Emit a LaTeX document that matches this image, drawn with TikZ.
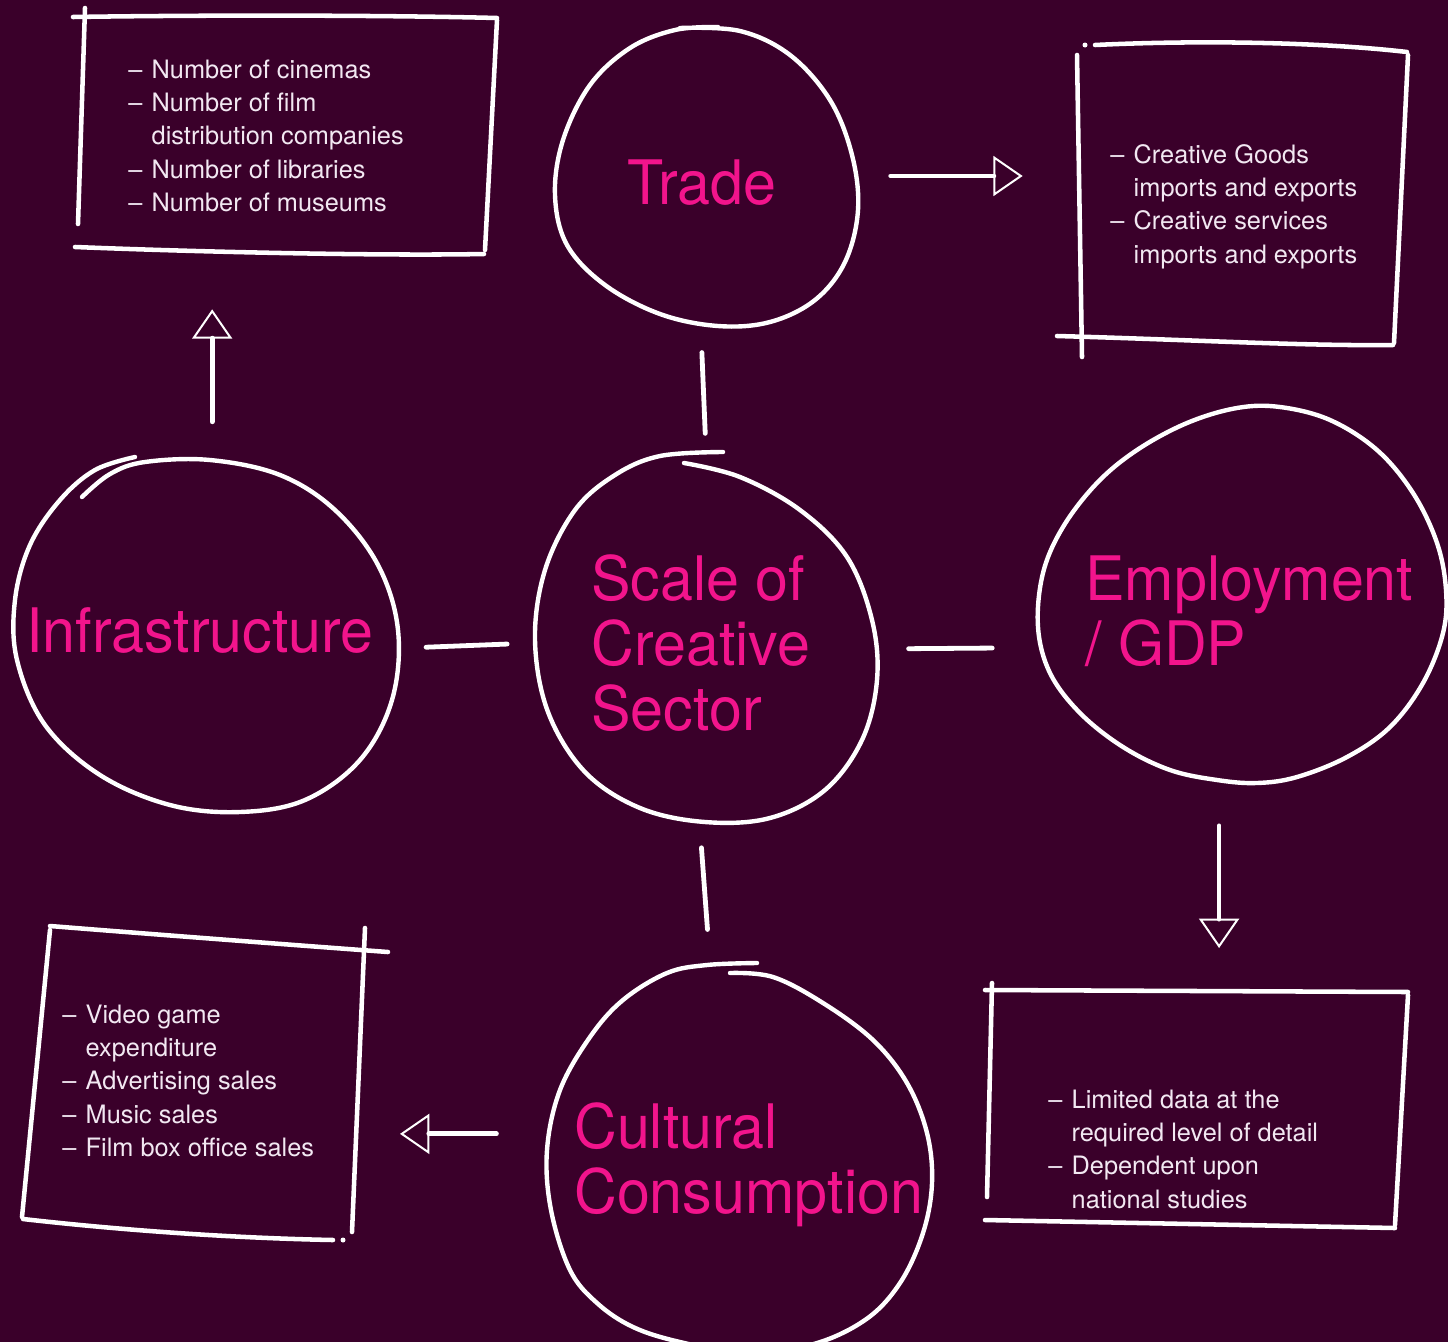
\documentclass[tikz,border=0pt]{standalone}
\usepackage{fontspec}
\setmainfont{TeX Gyre Heros}
\newfontfamily\headfont[FakeStretch=0.965]{TeX Gyre Heros}
\usetikzlibrary{arrows.meta,shapes.geometric}
\definecolor{plum}{RGB}{58,0,42}
\definecolor{hotpink}{RGB}{242,20,140}
\definecolor{chalk}{RGB}{242,232,242}

\begin{document}
\begin{tikzpicture}[x=0.75pt,y=0.75pt,yscale=-1,xscale=1,
  hub/.style={ellipse, draw=none, inner sep=0pt, outer sep=0pt},
  panel/.style={rectangle, draw=none, inner sep=0pt, outer sep=0pt},
  ring/.style={draw=white, line width=3.3pt, line cap=round, line join=round},
  frame/.style={draw=white, line width=3.4pt, line cap=round},
  link/.style={draw=white, line width=3.6pt, line cap=round},
  pointer/.style={link, -{Triangle[open, length=22pt, width=30pt, line width=1.5pt]}},
  title/.style={text=hotpink, inner sep=0pt, anchor=base west, font=\headfont\fontsize{46}{48}\selectfont},
  notes/.style={text=chalk, inner sep=0pt, anchor=base west, font=\fontsize{19}{25.1}\selectfont}]
%set diagram size: 1448 x 1342
\path[use as bounding box, fill=plum] (0,0) rectangle (1448,1342);

%Hubs
\node[hub, minimum width=227pt, minimum height=225pt] (trade) at (706,176) {};
\node[hub, minimum width=256.5pt, minimum height=277.5pt] (scale) at (706,637) {};
\node[hub, minimum width=287pt, minimum height=266pt] (infra) at (206,635) {};
\node[hub, minimum width=307pt, minimum height=282pt] (emp) at (1242,595) {};
\node[hub, minimum width=289pt, minimum height=286.5pt] (cult) at (740,1154) {};

%Panels
\node[panel, minimum width=318pt, minimum height=180pt] (tlbox) at (285,132) {};
\node[panel, minimum width=261pt, minimum height=230pt] (trbox) at (1234,197) {};
\node[panel, minimum width=274.5pt, minimum height=236pt] (blbox) at (205,1082) {};
\node[panel, minimum width=317pt, minimum height=180pt] (brbox) at (1196,1108) {};

%Curve Lines: Trade
\draw[ring] plot[smooth, tension=0.6] coordinates {(680,28) (740,31) (790,55) (830,100) (852,155) (858,210) (845,262) (815,300) (770,322) (718,326) (660,314) (605,285) (567,245) (555,195) (563,140) (590,85) (630,48) (675,30) (718,27)};
%Curve Lines: Scale
\draw[ring] plot[smooth, tension=0.6] coordinates {(684,463) (740,477) (800,510) (847,557) (872,620) (877,680) (862,740) (825,790) (770,818) (705,822) (640,808) (585,772) (548,712) (535,640) (545,570) (575,510) (615,475) (660,456) (723,452)};
%Curve Lines: Infrastructure
\draw[ring] plot[smooth, tension=0.6] coordinates {(82,497) (110,474) (145,462) (210,460) (280,475) (335,510) (378,565) (398,630) (392,700) (360,760) (305,800) (240,812) (170,805) (100,775) (45,725) (17,660) (15,600) (30,545) (60,500) (95,470) (135,457)};
%Curve Lines: Employment
\draw[ring] plot[smooth cycle, tension=0.6] coordinates {(1280,407) (1330,420) (1377,450) (1413,493) (1437,543) (1446,590) (1443,633) (1423,683) (1390,727) (1347,757) (1297,777) (1257,783) (1217,780) (1170,770) (1123,747) (1080,713) (1050,673) (1038,627) (1043,573) (1063,527) (1097,483) (1137,450) (1187,423) (1237,408)};
%Curve Lines: Cultural
\draw[ring] plot[smooth, tension=0.6] coordinates {(730,973) (773,977) (823,1003) (873,1040) (907,1083) (927,1133) (932,1183) (923,1233) (900,1283) (865,1320) (810,1345) (740,1352) (680,1342) (633,1327) (597,1303) (570,1270) (551,1210) (547,1150) (560,1090) (590,1037) (623,1000) (667,973) (707,965) (757,963)};

%Straight Lines: top-left panel
\draw[frame] (85,8) -- (78,224);
\draw[frame] (73,17) .. controls (200,15) and (380,15) .. (497,18);
\draw[frame] (497,20) -- (485,250);
\draw[frame] (75,247) .. controls (200,252) and (380,256) .. (484,254);
%Straight Lines: top-right panel
\fill[white] (1085,45) circle (2.5);
\draw[frame] (1095,45) .. controls (1200,40) and (1320,42) .. (1407,52);
\draw[frame] (1077,55) -- (1082,357);
\draw[frame] (1408,55) -- (1394,343);
\draw[frame] (1057,336) .. controls (1200,340) and (1300,346) .. (1393,345);
%Straight Lines: bottom-left panel
\draw[frame] (50,926) .. controls (150,934) and (280,944) .. (388,952);
\draw[frame] (50,930) -- (22,1217);
\draw[frame] (365,928) -- (352,1232);
\draw[frame] (23,1219) .. controls (120,1230) and (230,1238) .. (333,1240);
\fill[white] (343,1240) circle (2.5);
%Straight Lines: bottom-right panel
\draw[frame] (985,990) -- (1408,992);
\draw[frame] (992,983) -- (987,1197);
\draw[frame] (1408,995) -- (1395,1225);
\draw[frame] (985,1220) -- (1395,1228);

%Links
\draw[link, shorten <=20pt, shorten >=14pt] (trade.268) -- (scale.90);
\draw[link, shorten <=22pt, shorten >=21pt] (infra.-4) -- (scale.182);
\draw[link, shorten <=24pt, shorten >=40pt] (scale.-4) -- (emp.195);
\draw[link, shorten <=19.5pt, shorten >=27pt] (scale.268) -- (cult.99);

%Arrows
\draw[pointer, shorten <=27pt, shorten >=43pt] (infra.88) -- (infra.88 |- tlbox.south);
\draw[pointer, shorten <=25pt, shorten >=28pt] (trade.east) -- (trade.east -| trbox.west);
\draw[pointer, shorten <=33pt, shorten >=30pt] (emp.263) -- (emp.263 |- brbox.north);
\draw[pointer, shorten <=39pt, shorten >=9pt] (cult.174) -- (cult.174 -| blbox.east);

% Text Node
\node[title] (trade-label) at (627,204) {Trade};
% Text Node
\node[title] (scale-label) at (591,600) {\begin{tabular}[t]{@{}l@{}}Scale of\\Creative\\Sector\end{tabular}};
% Text Node
\node[title] (infra-label) at (26,652) {Infrastructure};
% Text Node
\node[title] (emp-label) at (1085,600) {\begin{tabular}[t]{@{}l@{}}Employment\\/ GDP\end{tabular}};
% Text Node
\node[title] (cult-label) at (574,1148) {\begin{tabular}[t]{@{}l@{}}Cultural\\Consumption\end{tabular}};

% Text Node
\node[notes] (tl-notes) at (128,78) {\begin{tabular}[t]{@{}l@{\hspace{7pt}}l@{}}
\textendash & Number of cinemas\\
\textendash & Number of film\\
 & distribution companies\\
\textendash & Number of libraries\\
\textendash & Number of museums
\end{tabular}};
% Text Node
\node[notes] (tr-notes) at (1110,163) {\begin{tabular}[t]{@{}l@{\hspace{7pt}}l@{}}
\textendash & Creative Goods\\
 & imports and exports\\
\textendash & Creative services\\
 & imports and exports
\end{tabular}};
% Text Node
\node[notes] (bl-notes) at (62,1023) {\begin{tabular}[t]{@{}l@{\hspace{7pt}}l@{}}
\textendash & Video game\\
 & expenditure\\
\textendash & Advertising sales\\
\textendash & Music sales\\
\textendash & Film box office sales
\end{tabular}};
% Text Node
\node[notes] (br-notes) at (1048,1108) {\begin{tabular}[t]{@{}l@{\hspace{7pt}}l@{}}
\textendash & Limited data at the\\
 & required level of detail\\
\textendash & Dependent upon\\
 & national studies
\end{tabular}};

\end{tikzpicture}
\end{document}
